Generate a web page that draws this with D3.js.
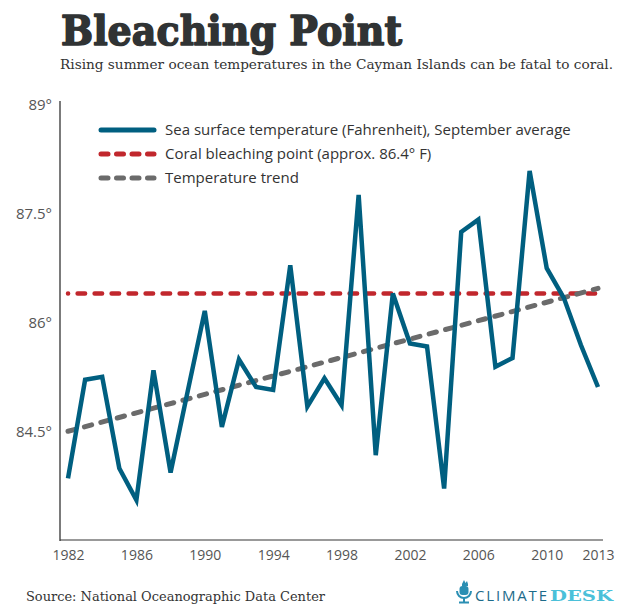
<!DOCTYPE html>
<html>
<head>
<meta charset="utf-8">
<script src="https://cdn.jsdelivr.net/npm/d3@7"></script>
<style>
  html, body { margin: 0; padding: 0; background: #fff; }
  svg { display: block; }
</style>
</head>
<body>
<svg id="chart" width="630" height="613"></svg>
<script>
const years = [1982,1983,1984,1985,1986,1987,1988,1989,1990,1991,1992,1993,1994,1995,1996,1997,1998,1999,2000,2001,2002,2003,2004,2005,2006,2007,2008,2009,2010,2011,2012,2013];
const sst = [83.85,85.21,85.25,83.99,83.55,85.34,83.93,85.05,86.16,84.56,85.49,85.11,85.07,86.79,84.84,85.23,84.86,87.76,84.17,86.40,85.71,85.67,83.71,87.25,87.42,85.39,85.51,88.09,86.75,86.34,85.69,85.11];
const bleachingPoint = 86.4;
const trendStart = 84.5, trendEnd = 86.47;
const yTicks = [84.5, 86, 87.5, 89];
const xTicks = [1982,1986,1990,1994,1998,2002,2006,2010,2013];
const legendItems = [
  {label: "Sea surface temperature (Fahrenheit), September average", key: "sst"},
  {label: "Coral bleaching point (approx. 86.4° F)", key: "bleach"},
  {label: "Temperature trend", key: "trend"}
];

const COLORS = {sst: "#005f80", bleach: "#c1272d", trend: "#6b6b6b"};
const svg = d3.select("#chart");

const x = d3.scaleLinear().domain([1982, 2013]).range([68, 598]);
const y = d3.scaleLinear().domain([83, 89]).range([540, 105]);

// Title
svg.append("text").attr("x", 61).attr("y", 45)
  .attr("font-family", "'DejaVu Serif', serif").attr("font-weight", 900)
  .attr("font-size", 41).attr("fill", "#303334")
  .attr("stroke", "#303334").attr("stroke-width", 1.6).attr("stroke-linejoin", "round")
  .attr("textLength", 341).attr("lengthAdjust", "spacingAndGlyphs")
  .text("Bleaching Point");
svg.append("text").attr("x", 60).attr("y", 69)
  .attr("font-family", "'DejaVu Serif', serif")
  .attr("font-size", 13).attr("fill", "#333")
  .attr("textLength", 553).attr("lengthAdjust", "spacingAndGlyphs")
  .text("Rising summer ocean temperatures in the Cayman Islands can be fatal to coral.");

// Axes
svg.append("line").attr("x1", 60).attr("x2", 603).attr("y1", 540).attr("y2", 540)
  .attr("stroke", "#999").attr("stroke-width", 2);
svg.append("line").attr("x1", 60).attr("x2", 60).attr("y1", 101).attr("y2", 541)
  .attr("stroke", "#333").attr("stroke-width", 1.3);

const yAxis = d3.axisLeft(y).tickValues(yTicks).tickSize(0).tickPadding(8)
  .tickFormat(d => d + "°");
const gy = svg.append("g").attr("transform", "translate(60,0)").call(yAxis);
gy.select(".domain").remove();
gy.selectAll("text").attr("font-family", "'Open Sans', sans-serif").attr("font-size", 15).attr("fill", "#555");

const xAxis = d3.axisBottom(x).tickValues(xTicks).tickSize(0).tickPadding(10)
  .tickFormat(d3.format("d"));
const gx = svg.append("g").attr("transform", "translate(0,540)").call(xAxis);
gx.select(".domain").remove();
gx.selectAll("text").attr("font-family", "'Open Sans', sans-serif").attr("font-size", 14).attr("fill", "#555");

// Bleaching point line
svg.append("line").attr("x1", x(1982)).attr("x2", x(2013))
  .attr("y1", y(bleachingPoint)).attr("y2", y(bleachingPoint))
  .attr("stroke", COLORS.bleach).attr("stroke-width", 4.5)
  .attr("stroke-linecap", "round").attr("stroke-dasharray", "7.5 9.5").attr("stroke-dashoffset", 7.4);

// Trend line
svg.append("line").attr("x1", x(1982)).attr("x2", x(2013))
  .attr("y1", y(trendStart)).attr("y2", y(trendEnd))
  .attr("stroke", COLORS.trend).attr("stroke-width", 5)
  .attr("stroke-linecap", "round").attr("stroke-dasharray", "7.5 9.5");

// SST line
const line = d3.line().x((d, i) => x(years[i])).y(d => y(d));
svg.append("path").datum(sst).attr("d", line)
  .attr("fill", "none").attr("stroke", COLORS.sst).attr("stroke-width", 4.5)
  .attr("stroke-linejoin", "miter").attr("stroke-linecap", "butt");

// Legend
const lg = svg.append("g");
legendItems.forEach((item, i) => {
  const ly = [130, 154, 178][i];
  const l = lg.append("line").attr("x1", 101).attr("x2", 154).attr("y1", ly).attr("y2", ly)
    .attr("stroke", COLORS[item.key]).attr("stroke-width", 5).attr("stroke-linecap", "round");
  if (item.key !== "sst") l.attr("stroke-dasharray", "7 8.5");
  lg.append("text").attr("x", 165).attr("y", ly + 5)
    .attr("font-family", "'Open Sans', sans-serif").attr("font-size", 15).attr("fill", "#333")
    .text(item.label);
});

// Source
svg.append("text").attr("x", 26).attr("y", 601)
  .attr("font-family", "'DejaVu Serif', serif").attr("font-size", 13).attr("fill", "#333")
  .attr("textLength", 299).attr("lengthAdjust", "spacingAndGlyphs")
  .text("Source: National Oceanographic Data Center");

// Logo
const logo = svg.append("g");
const ic = "#2b8fb3";
logo.append("path").attr("d", "M462,584 l2,-4 l1.5,3 l1.5,-2 l1,3 v2 h-6 z").attr("fill", ic);
logo.append("rect").attr("x", 459.5).attr("y", 586).attr("width", 9).attr("height", 9).attr("rx", 3).attr("fill", ic);
logo.append("path").attr("d", "M457,591 a7,7 0 0 0 14,0").attr("fill", "none").attr("stroke", ic).attr("stroke-width", 2);
logo.append("rect").attr("x", 463).attr("y", 598).attr("width", 2).attr("height", 4).attr("fill", ic);
logo.append("rect").attr("x", 459).attr("y", 601.5).attr("width", 10).attr("height", 2).attr("fill", ic);
logo.append("text").attr("x", 475).attr("y", 601)
  .attr("font-family", "'Open Sans', sans-serif").attr("font-weight", 500).attr("font-size", 15).attr("fill", "#1d6b8a")
  .attr("textLength", 72).attr("lengthAdjust", "spacing")
  .text("CLIMATE");
logo.append("text").attr("x", 550).attr("y", 601)
  .attr("font-family", "'DejaVu Serif', serif").attr("font-weight", 700).attr("font-size", 15).attr("fill", "#4bc0d9")
  .attr("textLength", 63).attr("lengthAdjust", "spacingAndGlyphs")
  .text("DESK");
</script>
</body>
</html>
